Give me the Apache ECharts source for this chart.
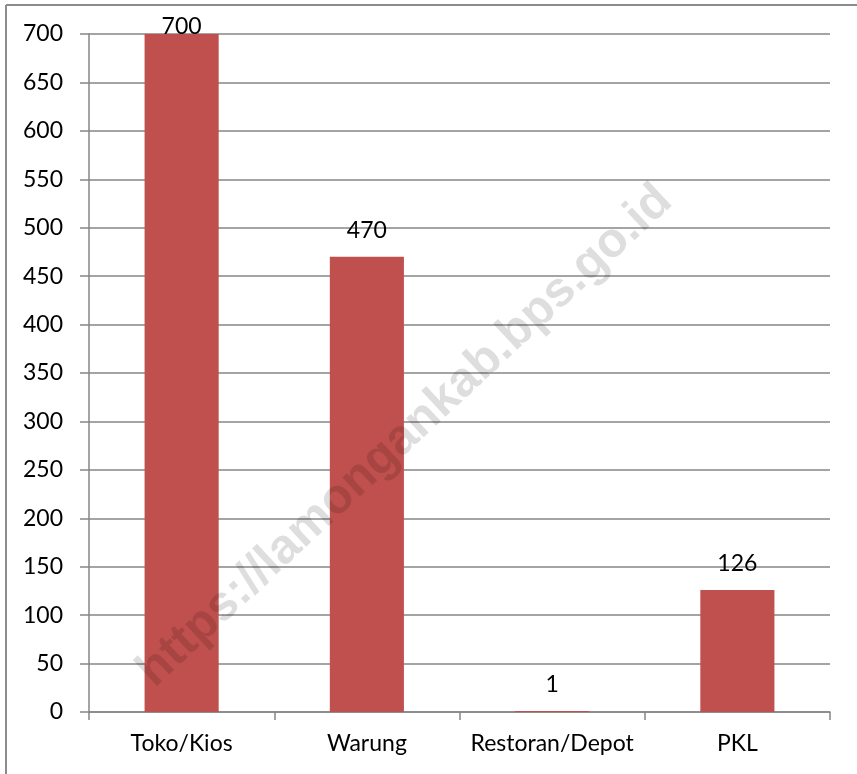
<!DOCTYPE html>
<html>
<head>
<meta charset="utf-8">
<script src="https://cdn.jsdelivr.net/npm/echarts@6/dist/echarts.min.js"></script>
<style>
  html, body { margin: 0; padding: 0; background: #fff; }
  #chart { width: 857px; height: 774px; }
</style>
</head>
<body>
<div id="chart"></div>
<script>
// data
const categories = ['Toko/Kios', 'Warung', 'Restoran/Depot', 'PKL'];
const values = [700, 470, 1, 126];
const yMin = 0;
const yMax = 700;
const yStep = 50;

const barColor = '#c0504d';
const gridColor = '#868686';
const fontFamily = 'Lato, "Noto Sans", sans-serif';

const chart = echarts.init(document.getElementById('chart'));

const maxVal = Math.max(...values);

chart.setOption({
  backgroundColor: '#fff',
  animation: false,
  grid: { left: 89, top: 34, right: 27, bottom: 62 },
  xAxis: {
    type: 'category',
    data: categories,
    axisLine: { lineStyle: { color: gridColor, width: 1.5 } },
    axisTick: { show: true, interval: 0, length: 8, lineStyle: { color: gridColor, width: 1.5 } },
    axisLabel: { interval: 0, hideOverlap: false, color: '#000', fontSize: 23, fontFamily, margin: 20 },
  },
  yAxis: {
    type: 'value',
    min: yMin,
    max: yMax,
    interval: yStep,
    axisLine: { show: true, lineStyle: { color: gridColor, width: 1.5 } },
    axisTick: { show: true, length: 9, lineStyle: { color: gridColor, width: 1.5 } },
    axisLabel: { color: '#000', fontSize: 23, fontFamily, margin: 26 },
    splitLine: { lineStyle: { color: gridColor, width: 1.5 } },
  },
  series: [
    {
      type: 'bar',
      barWidth: '40%',
      data: values.map((v) => ({
        value: v,
        // top label sits against the plot edge in the original
        label: v === maxVal ? { distance: -4 } : undefined,
      })),
      itemStyle: { color: barColor },
      label: {
        show: true,
        position: 'top',
        distance: 15,
        color: '#000',
        fontSize: 23,
        fontFamily,
      },
    },
  ],
  graphic: [
    // partial frame: only top and left edges are visible
    { type: 'line', shape: { x1: 6, y1: 5, x2: 857, y2: 5 }, style: { stroke: '#8c8c8c', lineWidth: 2 } },
    { type: 'line', shape: { x1: 6, y1: 5, x2: 6, y2: 774 }, style: { stroke: '#8c8c8c', lineWidth: 2 } },
    {
      type: 'text',
      x: 405,
      y: 436,
      rotation: 43 * Math.PI / 180,
      z: 100,
      style: {
        text: 'https://lamongankab.bps.go.id',
        fill: 'rgba(0,0,0,0.13)',
        font: 'bold 49px "Liberation Sans", Arial, sans-serif',
        align: 'center',
        verticalAlign: 'middle',
      },
    },
  ],
});
</script>
</body>
</html>
